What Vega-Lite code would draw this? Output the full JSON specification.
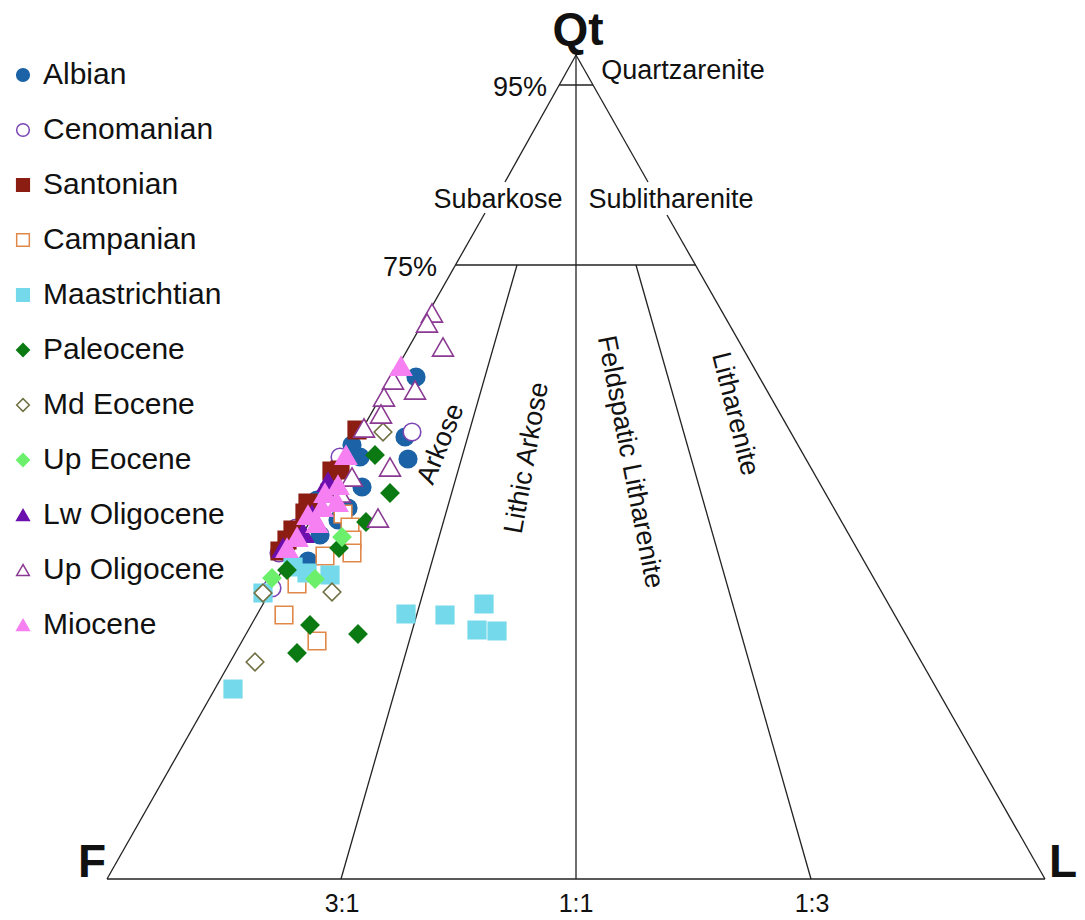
{
  "$schema": "https://vega.github.io/schema/vega-lite/v6.json",
  "width": 1085,
  "height": 920,
  "autosize": {"type": "fit", "contains": "padding"},
  "padding": 0,
  "background": "white",
  "datasets": {
    "edges": [
      {"x": 576, "y": 55, "x2": 505, "y2": 182},
      {"x": 485, "y": 213, "x2": 107, "y2": 879},
      {"x": 576, "y": 55, "x2": 648, "y2": 182},
      {"x": 667, "y": 215, "x2": 1045, "y2": 879},
      {"x": 107, "y": 879, "x2": 1045, "y2": 879},
      {"x": 576, "y": 55, "x2": 576, "y2": 879},
      {"x": 559, "y": 85, "x2": 593, "y2": 85},
      {"x": 456, "y": 265, "x2": 696, "y2": 265},
      {"x": 517, "y": 265, "x2": 341, "y2": 879},
      {"x": 636, "y": 265, "x2": 811, "y2": 879}
    ],
    "pts": [
      {"s": "Albian", "x": 416, "y": 377}, {"s": "Albian", "x": 405, "y": 437}, {"s": "Albian", "x": 408, "y": 459},
      {"s": "Albian", "x": 352, "y": 445}, {"s": "Albian", "x": 360, "y": 457}, {"s": "Albian", "x": 362, "y": 487},
      {"s": "Albian", "x": 317, "y": 500}, {"s": "Albian", "x": 348, "y": 508}, {"s": "Albian", "x": 338, "y": 520},
      {"s": "Albian", "x": 320, "y": 535}, {"s": "Albian", "x": 308, "y": 561},
      {"s": "Cenomanian", "x": 412, "y": 432}, {"s": "Cenomanian", "x": 340, "y": 457}, {"s": "Cenomanian", "x": 296, "y": 528},
      {"s": "Cenomanian", "x": 279, "y": 553}, {"s": "Cenomanian", "x": 272, "y": 588},
      {"s": "Santonian", "x": 357, "y": 430}, {"s": "Santonian", "x": 332, "y": 471}, {"s": "Santonian", "x": 340, "y": 470},
      {"s": "Santonian", "x": 330, "y": 493}, {"s": "Santonian", "x": 308, "y": 503}, {"s": "Santonian", "x": 305, "y": 513},
      {"s": "Santonian", "x": 293, "y": 530}, {"s": "Santonian", "x": 287, "y": 540}, {"s": "Santonian", "x": 280, "y": 551},
      {"s": "Campanian", "x": 343, "y": 514}, {"s": "Campanian", "x": 350, "y": 527}, {"s": "Campanian", "x": 352, "y": 540},
      {"s": "Campanian", "x": 352, "y": 553}, {"s": "Campanian", "x": 325, "y": 556}, {"s": "Campanian", "x": 297, "y": 584},
      {"s": "Campanian", "x": 284, "y": 615}, {"s": "Campanian", "x": 317, "y": 641},
      {"s": "Maastrichtian", "x": 233, "y": 689}, {"s": "Maastrichtian", "x": 330, "y": 575}, {"s": "Maastrichtian", "x": 307, "y": 573},
      {"s": "Maastrichtian", "x": 293, "y": 567}, {"s": "Maastrichtian", "x": 263, "y": 593}, {"s": "Maastrichtian", "x": 406, "y": 614},
      {"s": "Maastrichtian", "x": 445, "y": 615}, {"s": "Maastrichtian", "x": 484, "y": 604}, {"s": "Maastrichtian", "x": 477, "y": 630},
      {"s": "Maastrichtian", "x": 497, "y": 631},
      {"s": "Paleocene", "x": 375, "y": 455}, {"s": "Paleocene", "x": 390, "y": 493}, {"s": "Paleocene", "x": 366, "y": 522},
      {"s": "Paleocene", "x": 339, "y": 548}, {"s": "Paleocene", "x": 287, "y": 570}, {"s": "Paleocene", "x": 310, "y": 625},
      {"s": "Paleocene", "x": 358, "y": 634}, {"s": "Paleocene", "x": 297, "y": 653},
      {"s": "Md Eocene", "x": 383, "y": 432}, {"s": "Md Eocene", "x": 263, "y": 593}, {"s": "Md Eocene", "x": 332, "y": 592},
      {"s": "Md Eocene", "x": 255, "y": 662},
      {"s": "Up Eocene", "x": 342, "y": 537}, {"s": "Up Eocene", "x": 272, "y": 578}, {"s": "Up Eocene", "x": 315, "y": 579},
      {"s": "Lw Oligocene", "x": 328, "y": 482}, {"s": "Lw Oligocene", "x": 303, "y": 533}, {"s": "Lw Oligocene", "x": 283, "y": 548},
      {"s": "Lw Oligocene", "x": 312, "y": 515},
      {"s": "Up Oligocene", "x": 432, "y": 313}, {"s": "Up Oligocene", "x": 427, "y": 323}, {"s": "Up Oligocene", "x": 443, "y": 347},
      {"s": "Up Oligocene", "x": 415, "y": 390}, {"s": "Up Oligocene", "x": 393, "y": 380}, {"s": "Up Oligocene", "x": 384, "y": 397},
      {"s": "Up Oligocene", "x": 381, "y": 414}, {"s": "Up Oligocene", "x": 364, "y": 428}, {"s": "Up Oligocene", "x": 390, "y": 467},
      {"s": "Up Oligocene", "x": 352, "y": 477}, {"s": "Up Oligocene", "x": 340, "y": 493}, {"s": "Up Oligocene", "x": 378, "y": 518},
      {"s": "Miocene", "x": 401, "y": 366}, {"s": "Miocene", "x": 346, "y": 455}, {"s": "Miocene", "x": 338, "y": 485},
      {"s": "Miocene", "x": 337, "y": 502}, {"s": "Miocene", "x": 322, "y": 507}, {"s": "Miocene", "x": 308, "y": 515},
      {"s": "Miocene", "x": 317, "y": 523}, {"s": "Miocene", "x": 297, "y": 537}, {"s": "Miocene", "x": 287, "y": 548},
      {"s": "Miocene", "x": 325, "y": 493}
    ]
  },
  "encoding": {
    "x": {"type": "quantitative", "scale": {"domain": [0, 1085], "nice": false, "zero": false}, "axis": null},
    "y": {"type": "quantitative", "scale": {"domain": [0, 920], "reverse": true, "nice": false, "zero": false}, "axis": null}
  },
  "layer": [
    {
      "data": {"name": "edges"},
      "mark": {"type": "rule", "color": "#222222", "strokeWidth": 1.3},
      "encoding": {
        "x": {"field": "x", "type": "quantitative"},
        "y": {"field": "y", "type": "quantitative"},
        "x2": {"field": "x2"},
        "y2": {"field": "y2"}
      }
    },
    {
      "data": {"name": "pts"},
      "transform": [{"filter": {"field": "s", "oneOf": ["Albian", "Cenomanian", "Santonian", "Campanian", "Maastrichtian", "Paleocene", "Md Eocene", "Up Eocene"]}}],
      "mark": {"type": "point", "size": 310, "strokeWidth": 1.6, "opacity": 1, "fillOpacity": 1},
      "encoding": {
        "x": {"field": "x", "type": "quantitative"},
        "y": {"field": "y", "type": "quantitative"},
        "shape": {"field": "s", "type": "nominal", "title": null,
          "scale": {"domain": ["Albian", "Cenomanian", "Santonian", "Campanian", "Maastrichtian", "Paleocene", "Md Eocene", "Up Eocene", "Lw Oligocene", "Up Oligocene", "Miocene"],
                    "range": ["circle", "circle", "square", "square", "square", "diamond", "diamond", "diamond", "triangle-up", "triangle-up", "triangle-up"]}},
        "fill": {"field": "s", "type": "nominal", "title": null,
          "scale": {"domain": ["Albian", "Cenomanian", "Santonian", "Campanian", "Maastrichtian", "Paleocene", "Md Eocene", "Up Eocene", "Lw Oligocene", "Up Oligocene", "Miocene"],
                    "range": ["#1b63a6", "#ffffff", "#8c1d12", "#ffffff", "#74d9ea", "#0b7a12", "#ffffff", "#6cf06c", "#6b0fae", "#ffffff", "#f680f2"]}},
        "stroke": {"field": "s", "type": "nominal", "title": null,
          "scale": {"domain": ["Albian", "Cenomanian", "Santonian", "Campanian", "Maastrichtian", "Paleocene", "Md Eocene", "Up Eocene", "Lw Oligocene", "Up Oligocene", "Miocene"],
                    "range": ["#1b63a6", "#7a45b5", "#8c1d12", "#e0884a", "#74d9ea", "#0b7a12", "#6f6f42", "#6cf06c", "#6b0fae", "#8a3a92", "#f680f2"]}}
      }
    },
    {
      "data": {"name": "pts"},
      "transform": [{"filter": {"field": "s", "oneOf": ["Lw Oligocene", "Up Oligocene", "Miocene"]}}],
      "mark": {"type": "point", "size": 440, "strokeWidth": 1.6, "opacity": 1, "fillOpacity": 1},
      "encoding": {
        "x": {"field": "x", "type": "quantitative"},
        "y": {"field": "y", "type": "quantitative"},
        "shape": {"field": "s", "type": "nominal", "title": null},
        "fill": {"field": "s", "type": "nominal", "title": null},
        "stroke": {"field": "s", "type": "nominal", "title": null}
      }
    },
    {
      "data": {"values": [{"t": "Qt", "x": 578, "y": 31}, {"t": "F", "x": 92, "y": 863}, {"t": "L", "x": 1063, "y": 863}]},
      "mark": {"type": "text", "fontSize": 46, "fontWeight": "bold", "align": "center", "baseline": "middle", "color": "#111111"},
      "encoding": {"x": {"field": "x", "type": "quantitative"}, "y": {"field": "y", "type": "quantitative"}, "text": {"field": "t"}}
    },
    {
      "data": {"values": [
        {"t": "Quartzarenite", "x": 683, "y": 71}, {"t": "95%", "x": 520, "y": 88},
        {"t": "Subarkose", "x": 498, "y": 200}, {"t": "Sublitharenite", "x": 671, "y": 200},
        {"t": "75%", "x": 410, "y": 268}
      ]},
      "mark": {"type": "text", "fontSize": 27, "align": "center", "baseline": "middle", "color": "#111111"},
      "encoding": {"x": {"field": "x", "type": "quantitative"}, "y": {"field": "y", "type": "quantitative"}, "text": {"field": "t"}}
    },
    {
      "data": {"values": [{"t": "3:1", "x": 342, "y": 904}, {"t": "1:1", "x": 576, "y": 904}, {"t": "1:3", "x": 812, "y": 904}]},
      "mark": {"type": "text", "fontSize": 25, "align": "center", "baseline": "middle", "color": "#111111"},
      "encoding": {"x": {"field": "x", "type": "quantitative"}, "y": {"field": "y", "type": "quantitative"}, "text": {"field": "t"}}
    },
    {
      "data": {"values": [{"t": "Arkose", "x": 441, "y": 444}]},
      "mark": {"type": "text", "fontSize": 27, "angle": -68, "align": "center", "baseline": "middle", "color": "#111111"},
      "encoding": {"x": {"field": "x", "type": "quantitative"}, "y": {"field": "y", "type": "quantitative"}, "text": {"field": "t"}}
    },
    {
      "data": {"values": [{"t": "Lithic Arkose", "x": 527, "y": 458}]},
      "mark": {"type": "text", "fontSize": 27, "angle": -80, "align": "center", "baseline": "middle", "color": "#111111"},
      "encoding": {"x": {"field": "x", "type": "quantitative"}, "y": {"field": "y", "type": "quantitative"}, "text": {"field": "t"}}
    },
    {
      "data": {"values": [{"t": "Feldspatic Litharenite", "x": 630, "y": 462}]},
      "mark": {"type": "text", "fontSize": 27, "angle": 79, "align": "center", "baseline": "middle", "color": "#111111"},
      "encoding": {"x": {"field": "x", "type": "quantitative"}, "y": {"field": "y", "type": "quantitative"}, "text": {"field": "t"}}
    },
    {
      "data": {"values": [{"t": "Litharenite", "x": 735, "y": 414}]},
      "mark": {"type": "text", "fontSize": 27, "angle": 76, "align": "center", "baseline": "middle", "color": "#111111"},
      "encoding": {"x": {"field": "x", "type": "quantitative"}, "y": {"field": "y", "type": "quantitative"}, "text": {"field": "t"}}
    }
  ],
  "config": {
    "view": {"stroke": null},
    "font": "Liberation Sans",
    "legend": {
      "orient": "none", "legendX": 8, "legendY": 60, "labelFontSize": 30, "labelFont": "Liberation Sans",
      "labelColor": "#111111", "symbolSize": 160, "symbolStrokeWidth": 1.5, "rowPadding": 25, "labelOffset": 5,
      "padding": 0, "labelLimit": 400
    }
  }
}
